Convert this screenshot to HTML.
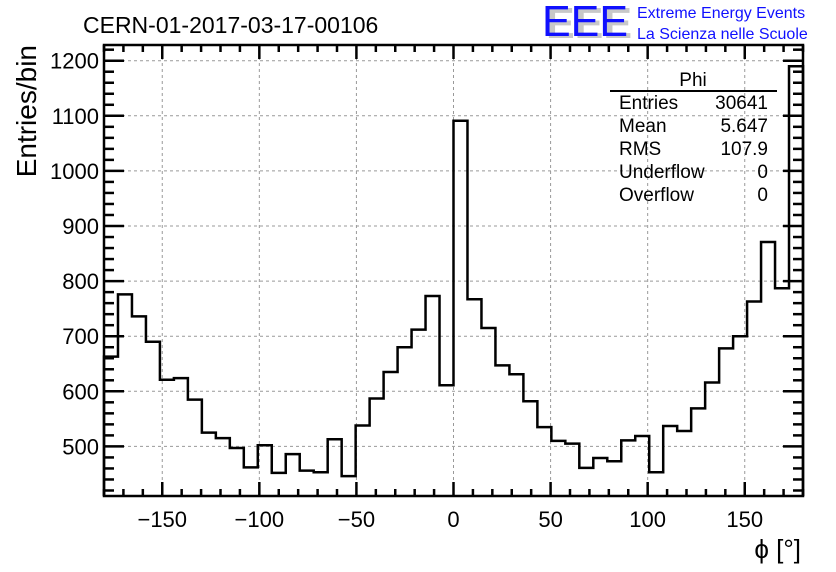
<!DOCTYPE html>
<html><head><meta charset="utf-8"><style>
html,body{margin:0;padding:0;background:#fff}
svg{display:block;font-family:"Liberation Sans",sans-serif}
</style></head><body>
<svg id="c" width="836" height="572" viewBox="0 0 836 572">
<text x="83" y="33" font-size="23">CERN-01-2017-03-17-00106</text>
<g>
<text x="546" y="38" font-size="44" font-weight="bold" fill="#c8c8c8" textLength="86" lengthAdjust="spacingAndGlyphs">EEE</text>
<text x="542" y="36" font-size="44" fill="#1010ff" textLength="86" lengthAdjust="spacingAndGlyphs">EEE</text>
<text x="637" y="18" font-size="16" fill="#1010ff">Extreme Energy Events</text>
<text x="637" y="39" font-size="16" fill="#1010ff">La Scienza nelle Scuole</text>
</g>
<g id="grid"></g>
<g id="hist"></g>
<g id="axes"></g>
<text transform="translate(36,45) rotate(-90)" text-anchor="end" font-size="28">Entries/bin</text>
<text x="801" y="558" text-anchor="end" font-size="26">ϕ [°]</text>
<g font-size="19">
<text x="693" y="86" text-anchor="middle">Phi</text>
<line x1="610" y1="91" x2="777" y2="91" stroke="#000" stroke-width="2"/>
<text x="619" y="109">Entries</text><text x="768" y="109" text-anchor="end">30641</text>
<text x="619" y="132">Mean</text><text x="768" y="132" text-anchor="end">5.647</text>
<text x="619" y="155">RMS</text><text x="768" y="155" text-anchor="end">107.9</text>
<text x="619" y="178">Underflow</text><text x="768" y="178" text-anchor="end">0</text>
<text x="619" y="201">Overflow</text><text x="768" y="201" text-anchor="end">0</text>
</g>
</svg>
<script>
const counts=[663,776,736,690,621,624,585,525,515,497,462,502,452,486,456,453,513,446,538,587,635,680,712,773,611,1091,767,715,647,631,582,535,510,505,461,479,473,511,519,453,537,528,569,616,678,700,763,871,787,1190];
const xTicks=[-150,-100,-50,0,50,100,150];
const yTicks=[500,600,700,800,900,1000,1100,1200];
const xMin=-180,xMax=180,yMin=410,yMax=1228.5;
const L=104,R=803,T=45,B=496;
const NS='http://www.w3.org/2000/svg';
function X(v){return L+(v-xMin)/(xMax-xMin)*(R-L);}
function Y(v){return B-(v-yMin)/(yMax-yMin)*(B-T);}
function mk(t,a,p){const e=document.createElementNS(NS,t);for(const k in a)e.setAttribute(k,a[k]);p.appendChild(e);return e;}
const grid=document.getElementById('grid'),axes=document.getElementById('axes'),hist=document.getElementById('hist');
xTicks.forEach(v=>{const g=mk('line',{x1:X(v),x2:X(v),y1:T,y2:B,stroke:'#999','stroke-dasharray':'3,3','stroke-width':1},grid);

});
yTicks.forEach(v=>{const g=mk('line',{x1:L,x2:R,y1:Y(v),y2:Y(v),stroke:'#999','stroke-dasharray':'3,3','stroke-width':1},grid);

});
const bw=(xMax-xMin)/counts.length;
let d='M'+X(xMin)+','+Y(yMin);
counts.forEach((c,i)=>{d+=' L'+X(xMin+i*bw)+','+Y(c)+' L'+X(xMin+(i+1)*bw)+','+Y(c);});
d+=' L'+X(xMax)+','+Y(yMin);
const p=mk('path',{d:d,fill:'none',stroke:'#000','stroke-width':2.5},hist);


const fr=mk('rect',{x:L,y:T,width:R-L,height:B-T,fill:'none',stroke:'#000','stroke-width':2.5},axes);


for(let v=-180;v<=180;v+=10){const maj=v%50===0;const len=maj?14:7;
mk('line',{x1:X(v),x2:X(v),y1:B,y2:B-len,stroke:'#000','stroke-width':2.5},axes);
mk('line',{x1:X(v),x2:X(v),y1:T,y2:T+len,stroke:'#000','stroke-width':2.5},axes);}
for(let v=420;v<=1220;v+=20){const maj=v%100===0;const len=maj?20:10;
mk('line',{x1:L,x2:L+len,y1:Y(v),y2:Y(v),stroke:'#000','stroke-width':2.5},axes);
mk('line',{x1:R,x2:R-len,y1:Y(v),y2:Y(v),stroke:'#000','stroke-width':2.5},axes);}
xTicks.forEach(v=>{const t=mk('text',{x:X(v),y:527,'text-anchor':'middle','font-size':22},axes);t.textContent=(v<0?'\u2212'+(-v):v);

});
yTicks.forEach(v=>{const t=mk('text',{x:99,y:Y(v)+8,'text-anchor':'end','font-size':22},axes);t.textContent=v;

});
</script>
</body></html>
